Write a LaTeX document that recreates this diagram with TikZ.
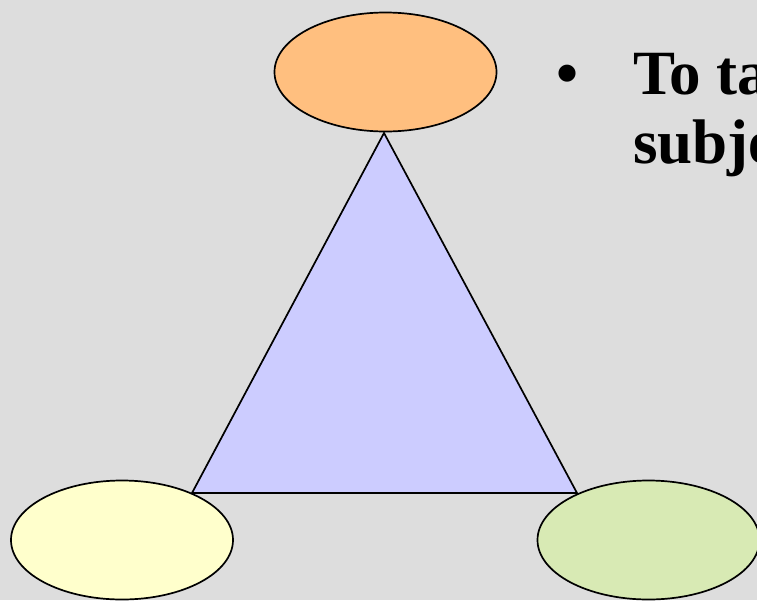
\documentclass[tikz,border=0pt]{standalone}
\usepackage{fontspec}
\setmainfont{Liberation Serif}
\usetikzlibrary{shapes.geometric}
\definecolor{bg}{HTML}{DDDDDD}
\definecolor{orangefill}{HTML}{FFBF7F}
\definecolor{trifill}{HTML}{CCCCFF}
\definecolor{yellowfill}{HTML}{FFFFCC}
\definecolor{greenfill}{HTML}{D8EAB4}
\tikzset{
  oval/.style={ellipse, draw=black, line width=1.7pt, minimum width=222pt, minimum height=119pt, inner sep=0pt},
  bigtext/.style={anchor=base west, inner sep=0pt, font=\fontsize{63}{69}\selectfont\bfseries},
}
\begin{document}
\begin{tikzpicture}[x=1pt,y=-1pt]
\useasboundingbox (0,0) rectangle (757,600);
\clip (0,0) rectangle (757,600);
\fill[bg] (0,0) rectangle (757,600);
\coordinate (apex) at (384,133);
\coordinate (bl) at (192,493);
\coordinate (br) at (577,493);
\draw[fill=trifill, line width=1.7pt, line join=miter] (apex) -- (bl) -- (br) -- cycle;
\node[oval, fill=orangefill] (top) at (385.5,72) {};
\node[oval, fill=yellowfill] (left) at (122,540) {};
\node[oval, fill=greenfill] (right) at (648.5,540) {};
\node[bigtext] (bullet) at (556,94) {•};
\node[bigtext] (line1) at (633,94) {To ta};
\node[bigtext] (line2) at (633,163) {subje};
\end{tikzpicture}
\end{document}
